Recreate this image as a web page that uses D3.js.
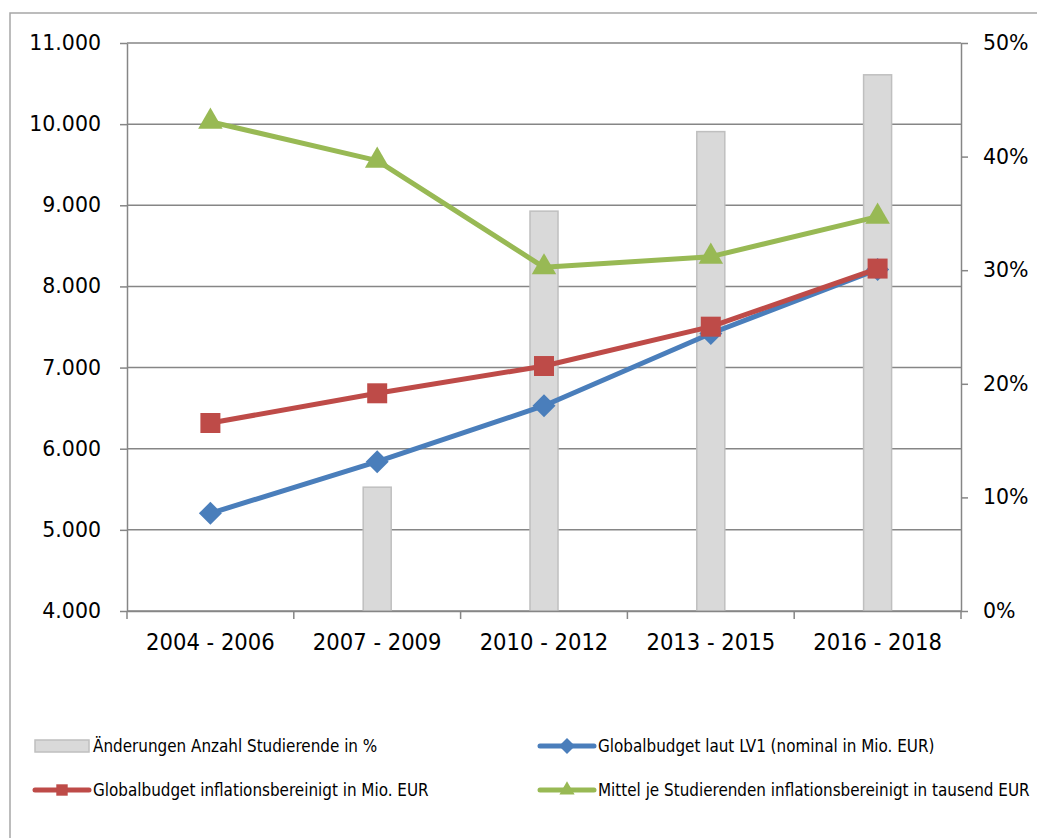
<!DOCTYPE html>
<html>
<head>
<meta charset="utf-8">
<script src="https://cdn.jsdelivr.net/npm/d3@7"></script>
<style>
  html, body { margin: 0; padding: 0; background: #fff; }
  svg { display: block; }
</style>
</head>
<body>
<div id="chart"></div>
<script>
// data
const categories = ["2004 - 2006", "2007 - 2009", "2010 - 2012", "2013 - 2015", "2016 - 2018"]
const studentChange = [null, 0.109, 0.352, 0.422, 0.472]          // right axis, share
const budgetNominal = [5204, 5840, 6530, 7420, 8210]               // left axis
const budgetReal = [6317, 6683, 7019, 7504, 8220]                  // left axis
const perStudentReal = [10030, 9550, 8236, 8367, 8860]             // left axis
const leftTicks = [4000, 5000, 6000, 7000, 8000, 9000, 10000, 11000]
const rightTicks = [0, 0.1, 0.2, 0.3, 0.4, 0.5]

const W = 1037, H = 838
const plot = { left: 127, right: 961, top: 43, bottom: 611 }

const gray = "#868686"
const tickFont = "'DejaVu Sans', sans-serif"
const catFont = "'DejaVu Sans Condensed', 'DejaVu Sans', sans-serif"

const de = d3.formatLocale({ decimal: ",", thousands: ".", grouping: [3], currency: ["", " €"] })
const fmtLeft = de.format(",.0f")
const fmtRight = d3.format(".0%")

const svg = d3.select("#chart").append("svg")
    .attr("width", W)
    .attr("height", H)

// chart frame (runs off the right/bottom edge like the source)
svg.append("rect")
    .attr("x", 10).attr("y", 13)
    .attr("width", 1200).attr("height", 1000)
    .attr("fill", "none")
    .attr("stroke", "#a6a6a6")
    .attr("stroke-width", 1.5)

const x = d3.scaleBand().domain(categories).range([plot.left, plot.right]).padding(0)
const yL = d3.scaleLinear().domain([4000, 11000]).range([plot.bottom, plot.top])
const yR = d3.scaleLinear().domain([0, 0.5]).range([plot.bottom, plot.top])

// gridlines
svg.append("g")
    .selectAll("line")
    .data(leftTicks)
    .join("line")
    .attr("x1", plot.left).attr("x2", plot.right)
    .attr("y1", d => yL(d)).attr("y2", d => yL(d))
    .attr("stroke", gray)
    .attr("stroke-width", 1.5)

// bars
const barW = 28
svg.append("g")
    .selectAll("rect")
    .data(categories.map((c, i) => ({ c, v: studentChange[i] })).filter(d => d.v != null))
    .join("rect")
    .attr("x", d => x(d.c) + x.bandwidth() / 2 - barW / 2)
    .attr("y", d => yR(d.v))
    .attr("width", barW)
    .attr("height", d => yR(0) - yR(d.v))
    .attr("fill", "#d9d9d9")
    .attr("stroke", "#bfbfbf")
    .attr("stroke-width", 1.5)

// axes
function styleAxis(g) {
    g.select(".domain").attr("stroke", gray).attr("stroke-width", 1.5)
    g.selectAll(".tick line").attr("stroke", gray).attr("stroke-width", 1.5)
    g.selectAll(".tick text").attr("fill", "#000")
}

svg.append("g")
    .attr("transform", `translate(${plot.left},0)`)
    .call(d3.axisLeft(yL).tickValues(leftTicks).tickFormat(fmtLeft).tickSize(7).tickPadding(19).tickSizeOuter(0))
    .call(styleAxis)
    .call(g => g.selectAll("text").attr("font-family", tickFont).attr("font-size", 20.5))

svg.append("g")
    .attr("transform", `translate(${plot.right},0)`)
    .call(d3.axisRight(yR).tickValues(rightTicks).tickFormat(fmtRight).tickSize(7).tickPadding(15).tickSizeOuter(0))
    .call(styleAxis)
    .call(g => g.selectAll("text").attr("font-family", tickFont).attr("font-size", 20.5))

const xAxis = svg.append("g")
    .attr("transform", `translate(0,${plot.bottom})`)
    .call(d3.axisBottom(x).tickSize(0).tickPadding(22).tickSizeOuter(0))
    .call(styleAxis)
xAxis.selectAll("text")
    .attr("font-family", catFont)
    .attr("font-size", 23.5)

// category separators on the x axis
const edges = categories.map(c => x(c)).concat([x(categories[categories.length - 1]) + x.bandwidth()])
xAxis.selectAll(".sep")
    .data(edges)
    .join("line")
    .attr("class", "sep")
    .attr("x1", d => d).attr("x2", d => d)
    .attr("y1", 0).attr("y2", 8)
    .attr("stroke", gray)
    .attr("stroke-width", 1.5)

// marker shapes (diamond = square turned 45°)
const diamond = r => `M0,${-r}L${r},0L0,${r}L${-r},0Z`
const symSquare = d3.symbol().type(d3.symbolSquare).size(400)
const symTriangle = d3.symbol().type(d3.symbolTriangle).size(260)

const series = [
    { name: "Globalbudget laut LV1 (nominal in Mio. EUR)", values: budgetNominal, color: "#4a7ebb", sym: () => diamond(11.5), legSym: diamond(8) },
    { name: "Globalbudget inflationsbereinigt in Mio. EUR", values: budgetReal, color: "#be4b48", sym: symSquare, legSym: d3.symbol().type(d3.symbolSquare).size(130)() },
    { name: "Mittel je Studierenden inflationsbereinigt in tausend EUR", values: perStudentReal, color: "#98b954", sym: symTriangle, legSym: d3.symbol().type(d3.symbolTriangle).size(100)() }
]

const line = d3.line()
    .x((d, i) => x(categories[i]) + x.bandwidth() / 2)
    .y(d => yL(d))

series.forEach(s => {
    const g = svg.append("g")
    g.append("path")
        .datum(s.values)
        .attr("d", line)
        .attr("fill", "none")
        .attr("stroke", s.color)
        .attr("stroke-width", 5)
        .attr("stroke-linejoin", "round")
    g.selectAll("path.mk")
        .data(s.values)
        .join("path")
        .attr("class", "mk")
        .attr("d", s.sym)
        .attr("transform", (d, i) => `translate(${x(categories[i]) + x.bandwidth() / 2},${yL(d)})`)
        .attr("fill", s.color)
})

// legend
const legendFont = catFont
const legendItems = [
    { name: "Änderungen Anzahl Studierende in %", type: "bar", x: 35, y: 746 },
    { name: series[0].name, type: "line", s: series[0], x: 540, y: 746 },
    { name: series[1].name, type: "line", s: series[1], x: 35, y: 790 },
    { name: series[2].name, type: "line", s: series[2], x: 540, y: 790 }
]

const leg = svg.append("g")
legendItems.forEach(it => {
    const g = leg.append("g").attr("transform", `translate(${it.x},${it.y})`)
    if (it.type === "bar") {
        g.append("rect")
            .attr("x", 0).attr("y", -6)
            .attr("width", 54).attr("height", 12)
            .attr("fill", "#d9d9d9")
            .attr("stroke", "#bfbfbf")
            .attr("stroke-width", 1.5)
    } else {
        g.append("line")
            .attr("x1", 0).attr("x2", 54)
            .attr("y1", 0).attr("y2", 0)
            .attr("stroke", it.s.color)
            .attr("stroke-width", 5)
            .attr("stroke-linecap", "round")
        g.append("path")
            .attr("d", it.s.legSym)
            .attr("transform", "translate(27,0)")
            .attr("fill", it.s.color)
    }
    g.append("text")
        .attr("x", 58)
        .attr("y", 0)
        .attr("dy", "0.35em")
        .attr("font-family", legendFont)
        .attr("font-size", 16.9)
        .attr("fill", "#000")
        .text(it.name)
})
</script>
</body>
</html>
